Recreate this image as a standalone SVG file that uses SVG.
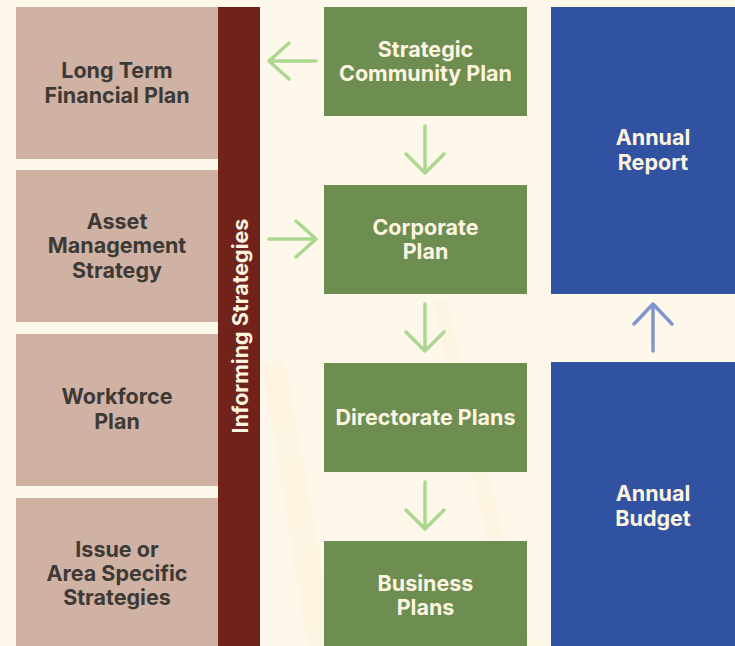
<svg xmlns="http://www.w3.org/2000/svg" width="735" height="646" viewBox="0 0 735 646">
  <defs>
    <style>
      .t { font-family: Inter, "Open Sans", "Liberation Sans", sans-serif; font-weight: 700; font-size: 21.5px; text-anchor: middle; }
      .dark { fill: #3d3a35; }
      .light { fill: #fdf5e0; }
      .beige { fill: #d0b2a5; }
      .green { fill: #6e8e51; }
      .blue { fill: #3152a0; }
      .ga { stroke: #acd790; stroke-width: 3.5; fill: none; stroke-linecap: round; stroke-linejoin: round; }
      .ba { stroke: #7f96cf; stroke-width: 3.5; fill: none; stroke-linecap: round; stroke-linejoin: round; }
      .wm { fill: #fdf4e2; }
    </style>
  </defs>
  <rect width="735" height="646" fill="#fef8ea"/>
  <g id="watermark">
    <polygon class="wm" points="262,364 285,360 336,646 308,646"/>
    <polygon class="wm" points="432,300 446,300 530,646 512,646"/>
  </g>

  <g id="long-term-financial-plan">
    <rect class="beige" x="16" y="7" width="202" height="152"/>
    <text class="t dark" x="117" y="78">Long Term</text>
    <text class="t dark" x="117" y="103">Financial Plan</text>
  </g>
  <g id="asset-management-strategy">
    <rect class="beige" x="16" y="170" width="202" height="152"/>
    <text class="t dark" x="117" y="229">Asset</text>
    <text class="t dark" x="117" y="253">Management</text>
    <text class="t dark" x="117" y="278">Strategy</text>
  </g>
  <g id="workforce-plan">
    <rect class="beige" x="16" y="334" width="202" height="152"/>
    <text class="t dark" x="117" y="404">Workforce</text>
    <text class="t dark" x="117" y="429">Plan</text>
  </g>
  <g id="issue-area-specific-strategies">
    <rect class="beige" x="16" y="498" width="202" height="148"/>
    <text class="t dark" x="117" y="557">Issue or</text>
    <text class="t dark" x="117" y="581">Area Specific</text>
    <text class="t dark" x="117" y="605">Strategies</text>
  </g>
  <g id="informing-strategies">
    <rect x="218" y="7" width="42" height="639" fill="#71221a"/>
    <text class="t light" transform="translate(247.5,326) rotate(-90)" x="0" y="0">Informing Strategies</text>
  </g>

  <g id="strategic-community-plan">
    <rect class="green" x="324" y="7" width="203" height="109"/>
    <text class="t light" x="425.5" y="57">Strategic</text>
    <text class="t light" x="425.5" y="81">Community Plan</text>
  </g>
  <g id="corporate-plan">
    <rect class="green" x="324" y="185" width="203" height="109"/>
    <text class="t light" x="425.5" y="235">Corporate</text>
    <text class="t light" x="425.5" y="259">Plan</text>
  </g>
  <g id="directorate-plans">
    <rect class="green" x="324" y="363" width="203" height="109"/>
    <text class="t light" x="425.5" y="425">Directorate Plans</text>
  </g>
  <g id="business-plans">
    <rect class="green" x="324" y="541" width="203" height="105"/>
    <text class="t light" x="425.5" y="591">Business</text>
    <text class="t light" x="425.5" y="615">Plans</text>
  </g>

  <g id="annual-report">
    <rect class="blue" x="551" y="7" width="184" height="287"/>
    <text class="t light" x="653" y="145">Annual</text>
    <text class="t light" x="653" y="170">Report</text>
  </g>
  <g id="annual-budget">
    <rect class="blue" x="551" y="362" width="184" height="284"/>
    <text class="t light" x="653" y="501">Annual</text>
    <text class="t light" x="653" y="526">Budget</text>
  </g>

  <g id="connectors">
    <path class="ga" d="M316,61 H269 M289,43 L269,61 L289,79"/>
    <path class="ga" d="M269,239 H316 M296,221 L316,239 L296,257"/>
    <path class="ga" d="M425,126 V173 M406,154 L425,173 L444,154"/>
    <path class="ga" d="M425,304 V351 M406,332 L425,351 L444,332"/>
    <path class="ga" d="M425,482 V529 M406,510 L425,529 L444,510"/>
    <path class="ba" d="M653,351 V304 M634,324 L653,304 L672,324"/>
  </g>
</svg>
